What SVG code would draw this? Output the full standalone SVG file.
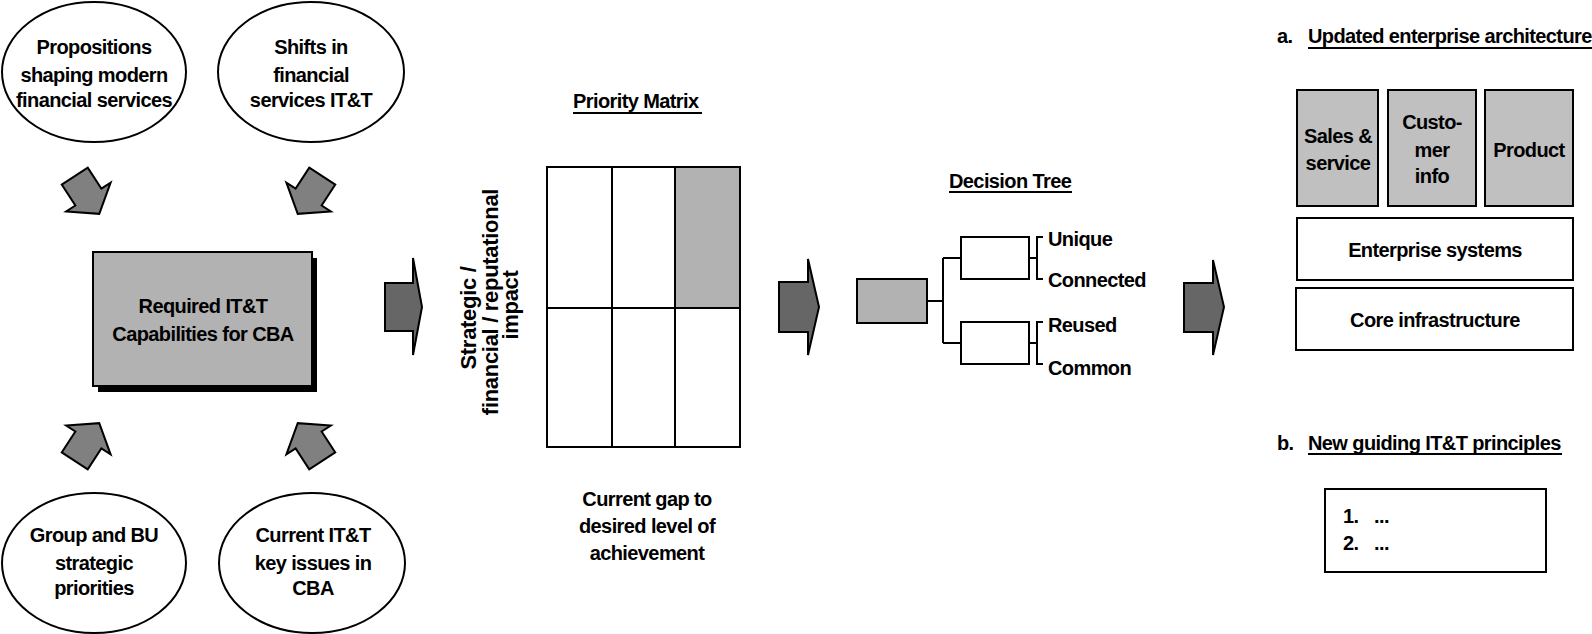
<svg xmlns="http://www.w3.org/2000/svg" width="1592" height="634" viewBox="0 0 1592 634">
  <style>
    text { font-family: "Liberation Sans", Arial, sans-serif; font-weight: bold; font-size: 20px; letter-spacing: -0.6px; fill: #000; }
    .c { text-anchor: middle; }
    .rot { font-size: 22px; letter-spacing: -0.3px; }
    .ell { fill: #fff; stroke: #000; stroke-width: 2; }
    .box { fill: #fff; stroke: #000; stroke-width: 2; }
    .grey { fill: #b2b2b2; stroke: #000; stroke-width: 2; }
    .lgrey { fill: #c0c0c0; stroke: #000; stroke-width: 2; }
    .darr { fill: #808080; stroke: #000; stroke-width: 2; stroke-linejoin: miter; }
    .harr { fill: #666; stroke: #000; stroke-width: 2; }
    .ln { fill: none; stroke: #000; stroke-width: 2; }
  </style>
  <defs>
    <!-- block arrow pointing down, centred on the origin -->
    <path id="blk" d="M-15.5,-22.5 H15.5 V2.5 H26.5 L0,22.5 L-26.5,2.5 H-15.5 Z"/>
  </defs>

  <rect width="1592" height="634" fill="#fff"/>

  <!-- input drivers -->
  <g id="node-propositions">
    <ellipse class="ell" cx="94" cy="72" rx="92" ry="70"/>
    <text class="c" x="94" y="54">Propositions</text>
    <text class="c" x="94" y="82">shaping modern</text>
    <text class="c" x="94" y="107">financial services</text>
  </g>
  <g id="node-shifts">
    <ellipse class="ell" cx="311" cy="72" rx="93" ry="70"/>
    <text class="c" x="311" y="54">Shifts in</text>
    <text class="c" x="311" y="82">financial</text>
    <text class="c" x="311" y="107">services IT&amp;T</text>
  </g>
  <g id="node-group-bu">
    <ellipse class="ell" cx="94" cy="563" rx="92" ry="70"/>
    <text class="c" x="94" y="542">Group and BU</text>
    <text class="c" x="94" y="570">strategic</text>
    <text class="c" x="94" y="595">priorities</text>
  </g>
  <g id="node-key-issues">
    <ellipse class="ell" cx="312" cy="563" rx="93" ry="70"/>
    <text class="c" x="313" y="542">Current IT&amp;T</text>
    <text class="c" x="313" y="570">key issues in</text>
    <text class="c" x="313" y="595">CBA</text>
  </g>

  <!-- central capability box with drop shadow -->
  <g id="node-capabilities">
    <rect x="98" y="258" width="219" height="134" fill="#000"/>
    <rect class="grey" x="93" y="252" width="219" height="134"/>
    <text class="c" x="203" y="313">Required IT&amp;T</text>
    <text class="c" x="203" y="341">Capabilities for CBA</text>
  </g>

  <!-- priority matrix -->
  <g id="node-priority-matrix">
    <text x="573" y="108">Priority Matrix</text>
    <line class="ln" x1="573" y1="113" x2="702" y2="113"/>
    <rect class="box" x="547" y="167" width="193" height="280"/>
    <rect x="675" y="167" width="65" height="141" fill="#b2b2b2"/>
    <rect class="ln" x="547" y="167" width="193" height="280"/>
    <line class="ln" x1="547" y1="308" x2="740" y2="308"/>
    <line class="ln" x1="612" y1="167" x2="612" y2="447"/>
    <line class="ln" x1="675" y1="167" x2="675" y2="447"/>
    <text class="c rot" transform="translate(476,318) rotate(-90)">Strategic /</text>
    <text class="c rot" transform="translate(498,302) rotate(-90)">financial / reputational</text>
    <text class="c rot" transform="translate(518,305) rotate(-90)">impact</text>
    <text class="c" x="647" y="506">Current gap to</text>
    <text class="c" x="647" y="533">desired level of</text>
    <text class="c" x="647" y="560">achievement</text>
  </g>

  <!-- decision tree -->
  <g id="node-decision-tree">
    <text x="949" y="188">Decision Tree</text>
    <line class="ln" x1="949" y1="192" x2="1072" y2="192"/>
    <rect class="grey" x="857" y="279" width="70" height="44"/>
    <rect class="box" x="961" y="237" width="68" height="42"/>
    <rect class="box" x="961" y="322" width="68" height="42"/>
    <text x="1048" y="246">Unique</text>
    <text x="1048" y="287">Connected</text>
    <text x="1048" y="332">Reused</text>
    <text x="1048" y="375">Common</text>
  </g>

  <!-- target architecture -->
  <g id="node-architecture">
    <text x="1277" y="43">a.</text>
    <text x="1308" y="43">Updated enterprise architecture</text>
    <line class="ln" x1="1308" y1="48" x2="1592" y2="48"/>
    <rect class="lgrey" x="1297" y="90" width="81" height="116"/>
    <text class="c" x="1338" y="143">Sales &amp;</text>
    <text class="c" x="1338" y="170">service</text>
    <rect class="lgrey" x="1388" y="90" width="88" height="116"/>
    <text class="c" x="1432" y="129">Custo-</text>
    <text class="c" x="1432" y="157">mer</text>
    <text class="c" x="1432" y="183">info</text>
    <rect class="lgrey" x="1485" y="90" width="88" height="116"/>
    <text class="c" x="1529" y="157">Product</text>
    <rect class="box" x="1297" y="218" width="276" height="62"/>
    <text class="c" x="1435" y="257">Enterprise systems</text>
    <rect class="box" x="1296" y="288" width="277" height="62"/>
    <text class="c" x="1435" y="327">Core infrastructure</text>
  </g>

  <!-- guiding principles -->
  <g id="node-principles">
    <text x="1277" y="450">b.</text>
    <text x="1308" y="450">New guiding IT&amp;T principles</text>
    <line class="ln" x1="1308" y1="454" x2="1562" y2="454"/>
    <rect class="box" x="1325" y="489" width="221" height="83"/>
    <text x="1343" y="523">1.</text>
    <text x="1374" y="523">...</text>
    <text x="1343" y="550">2.</text>
    <text x="1374" y="550">...</text>
  </g>

  <!-- connectors -->
  <g id="connectors">
    <use href="#blk" class="darr" transform="translate(87,195) rotate(-33)"/>
    <use href="#blk" class="darr" transform="translate(310,195) rotate(33)"/>
    <use href="#blk" class="darr" transform="translate(87,442) rotate(213)"/>
    <use href="#blk" class="darr" transform="translate(310,442) rotate(147)"/>
    <path class="harr" d="M385,283 H413 V258 L422,307 L413,355 V331 H385 Z"/>
    <path class="harr" d="M779,282 H808 V259 L819,307 L808,355 V332 H779 Z"/>
    <path class="harr" d="M1184,283 H1213 V260 L1224,307 L1213,355 V332 H1184 Z"/>
    <path class="ln" d="M927,301 H943 M943,258 V343 M943,258 H961 M943,343 H961"/>
    <path class="ln" d="M1029,258 H1037 M1043,237 H1037 V279 H1043"/>
    <path class="ln" d="M1029,343 H1037 M1043,322 H1037 V364 H1043"/>
  </g>
</svg>
